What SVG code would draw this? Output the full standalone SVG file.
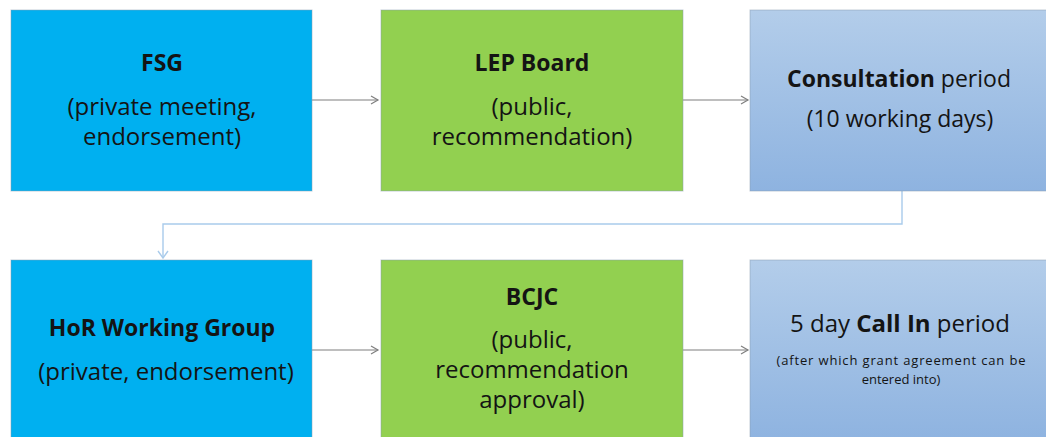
<svg xmlns="http://www.w3.org/2000/svg" width="1046" height="437" viewBox="0 0 1046 437">
<style>
.t{font-family:"Open Sans","Liberation Sans",sans-serif;fill:#141414;text-anchor:middle}
.n{font-size:24px}
.b{font-size:23px;font-weight:bold}
.s{font-size:13px}
.box{stroke:#8a9bb0;stroke-opacity:0.5;stroke-width:1}
.cyan{fill:#00b0f0}
.green{fill:#92d050}
.lb{fill:url(#g)}
.c{fill:none;stroke:#7f7f7f;stroke-width:1.2}
.cb{fill:none;stroke:#a9cbeb;stroke-width:1.4}
</style>
<defs>
<linearGradient id="g" x1="0" y1="0" x2="0" y2="1">
<stop offset="0" stop-color="#b3cdea"/>
<stop offset="1" stop-color="#8eb3e0"/>
</linearGradient>
<marker id="a" markerWidth="10" markerHeight="10" refX="8" refY="5" orient="auto" markerUnits="userSpaceOnUse">
<path d="M1,1 L8,5 L1,9" fill="none" stroke="#7f7f7f" stroke-width="1.2"/>
</marker>
<marker id="ab" markerWidth="12" markerHeight="12" refX="6" refY="10" orient="0" markerUnits="userSpaceOnUse">
<path d="M1,3 L6,10 L11,3" fill="none" stroke="#a9cbeb" stroke-width="1.4"/>
</marker>
</defs>
<rect width="1046" height="437" fill="#fff"/>
<g id="connectors">
<line class="c" x1="312" y1="100" x2="378" y2="100" marker-end="url(#a)"/>
<line class="c" x1="683" y1="100" x2="748" y2="100" marker-end="url(#a)"/>
<polyline class="cb" points="902,191 902,224 163,224 163,258" marker-end="url(#ab)"/>
<line class="c" x1="312" y1="350" x2="378" y2="350" marker-end="url(#a)"/>
<line class="c" x1="683" y1="350" x2="748" y2="350" marker-end="url(#a)"/>
</g>
<g id="fsg">
<rect class="box cyan" x="11" y="10" width="301" height="181"/>
<text class="t b" x="162" y="71">FSG</text>
<text class="t n" x="162" y="115">(private meeting,</text>
<text class="t n" x="162" y="145">endorsement)</text>
</g>
<g id="lep">
<rect class="box green" x="381" y="10" width="302" height="181"/>
<text class="t b" x="532" y="71">LEP Board</text>
<text class="t n" x="532" y="115">(public,</text>
<text class="t n" x="532" y="145">recommendation)</text>
</g>
<g id="consultation">
<rect class="box lb" x="750" y="10" width="300" height="181"/>
<text class="t" x="899" y="87" font-size="23"><tspan font-weight="bold">Consultation</tspan> period</text>
<text class="t" x="900" y="127" font-size="23">(10 working days)</text>
</g>
<g id="hor">
<rect class="box cyan" x="11" y="260" width="301" height="181"/>
<text class="t b" x="162" y="336">HoR Working Group</text>
<text class="t n" x="166" y="380">(private, endorsement)</text>
</g>
<g id="bcjc">
<rect class="box green" x="381" y="260" width="302" height="181"/>
<text class="t b" x="532" y="305">BCJC</text>
<text class="t n" x="532" y="348">(public,</text>
<text class="t n" x="532" y="378">recommendation</text>
<text class="t n" x="532" y="408">approval)</text>
</g>
<g id="callin">
<rect class="box lb" x="750" y="260" width="300" height="181"/>
<text class="t n" x="900" y="332">5 day <tspan font-weight="bold">Call In</tspan> period</text>
<text class="t s" x="901" y="365" textLength="249">(after which grant agreement can be</text>
<text class="t s" x="901" y="384">entered into)</text>
</g>
</svg>
